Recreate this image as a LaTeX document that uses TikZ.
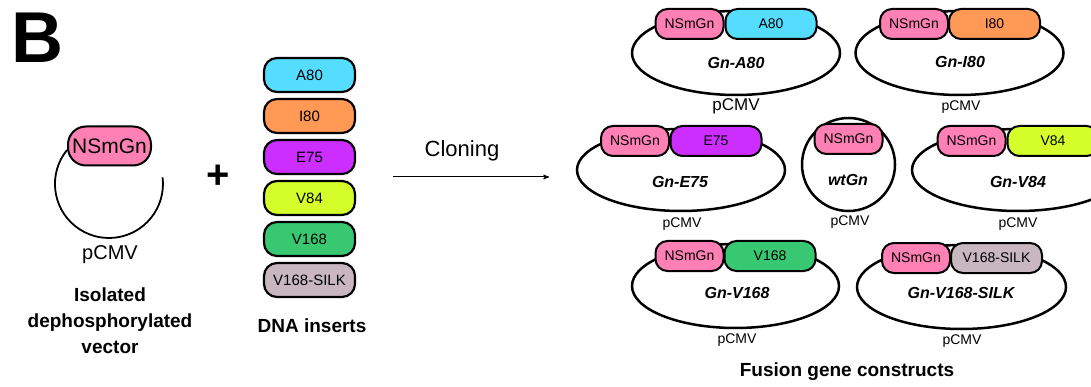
\documentclass[tikz,border=0pt]{standalone}
\usepackage{fontspec}
\setmainfont{Liberation Sans}
\usetikzlibrary{arrows}
\usetikzlibrary{positioning}
\definecolor{nspink}{HTML}{FF80B4}
\definecolor{acyan}{HTML}{55DDFF}
\definecolor{iorange}{HTML}{FF9955}
\definecolor{emagenta}{HTML}{CC2EFF}
\definecolor{vlime}{HTML}{D4FF2A}
\definecolor{vgreen}{HTML}{38C872}
\definecolor{silkgray}{HTML}{C8B7BE}

\begin{document}
\begin{tikzpicture}[x=1pt,y=-1pt,>=stealth',
    pill node/.style={draw,line width=2pt,rounded corners=12pt,minimum height=30pt,inner sep=0pt,font=\fontsize{14}{14}\selectfont},
    gn node/.style={pill node,fill=nspink,minimum width=68pt},
    ins node/.style={pill node,minimum width=91pt},
    col node/.style={draw,line width=2.2pt,rounded corners=13pt,minimum width=91pt,minimum height=34pt,inner sep=0pt,font=\fontsize{15}{15}\selectfont},
    plasmid/.style={line width=2.5pt,fill=white},
    name node/.style={font=\fontsize{16}{16}\selectfont\bfseries\itshape},
    cmv node/.style={font=\fontsize{14}{14}\selectfont},
    title node/.style={font=\fontsize{19}{26}\selectfont\bfseries,align=center}]
   \useasboundingbox (0,0) rectangle (1091,387);
   \clip (0,0) rectangle (1091,387);
   % left: vector + inserts
   \node[font=\fontsize{72}{72}\selectfont\bfseries] (panel) at (37,38) {B};
   \draw[line width=1.8pt] (67,150) arc[start angle=141,end angle=367,radius=54pt];
   \node[gn node,minimum width=83pt,minimum height=39pt,rounded corners=18pt,font=\fontsize{21}{21}\selectfont] (gnfree) at (109.5,146) {NSmGn};
   \node[font=\fontsize{20}{20}\selectfont] (cmvfree) at (110,255) {pCMV};
   \node[title node] (vectorlbl) at (110,321) {Isolated\\dephosphorylated\\vector};
   \node[font=\fontsize{40}{40}\selectfont\bfseries] (plus) at (218,177) {+};
   \node[col node,fill=acyan] (a80) at (309.5,75) {A80};
   \node[col node,fill=iorange] (i80) at (309.5,116) {I80};
   \node[col node,fill=emagenta] (e75) at (309.5,157) {E75};
   \node[col node,fill=vlime] (v84) at (309.5,198) {V84};
   \node[col node,fill=vgreen] (v168) at (309.5,239) {V168};
   \node[col node,fill=silkgray] (silk) at (309.5,280) {V168-SILK};
   \node[title node] (insertlbl) at (312,326) {DNA inserts};
   % cloning arrow
   \coordinate (clonestart) at (393,177);
   \coordinate (cloneend) at (549,177);
   \draw[->,line width=1pt] (clonestart) -- (cloneend);
   \node[font=\fontsize{22}{22}\selectfont] (cloninglbl) at (462,151) {Cloning};
   % Gn-A80
   \draw[plasmid] (736,53) ellipse [x radius=104pt,y radius=42pt];
   \node[gn node] (gna) at (689.5,24) {NSmGn};
   \node[ins node,fill=acyan] (insa) at (771,24) {A80};
   \node[name node] (lbla) at (736,63) {Gn-A80};
   \node[cmv node,font=\fontsize{17}{17}\selectfont] (cmva) at (736,106) {pCMV};
   % Gn-I80
   \draw[plasmid] (959.5,53) ellipse [x radius=104pt,y radius=42pt];
   \node[gn node] (gni) at (914,24) {NSmGn};
   \node[ins node,fill=iorange] (insi) at (994.5,24) {I80};
   \node[name node] (lbli) at (960,62) {Gn-I80};
   \node[cmv node] (cmvi) at (961,107) {pCMV};
   % Gn-E75
   \draw[plasmid] (681,170) ellipse [x radius=104pt,y radius=41pt];
   \node[gn node] (gne) at (635,141) {NSmGn};
   \node[ins node,fill=emagenta] (inse) at (716,141) {E75};
   \node[name node] (lble) at (680,182) {Gn-E75};
   \node[cmv node] (cmve) at (682,224) {pCMV};
   % wtGn
   \draw[plasmid] (848.5,164.5) circle [radius=46.5pt];
   \node[gn node] (gnw) at (848.5,139) {NSmGn};
   \node[name node] (lblw) at (848,180) {wtGn};
   \node[cmv node] (cmvw) at (850,222) {pCMV};
   % Gn-V84
   \draw[plasmid] (1018,170) ellipse [x radius=106pt,y radius=41pt];
   \node[gn node] (gnv) at (971.5,141) {NSmGn};
   \node[ins node,fill=vlime] (insv) at (1053,141) {V84};
   \node[name node] (lblv) at (1018,182) {Gn-V84};
   \node[cmv node] (cmvv) at (1018,224) {pCMV};
   % Gn-V168
   \draw[plasmid] (735.5,286) ellipse [x radius=103.5pt,y radius=42pt];
   \node[gn node] (gnl) at (689.5,256) {NSmGn};
   \node[ins node,fill=vgreen] (insl) at (770,256) {V168};
   \node[name node] (lbll) at (737,293) {Gn-V168};
   \node[cmv node] (cmvl) at (737,340) {pCMV};
   % Gn-V168-SILK
   \draw[plasmid] (961.5,287) ellipse [x radius=104.5pt,y radius=42pt];
   \node[gn node] (gns) at (916,258) {NSmGn};
   \node[ins node,fill=silkgray] (inss) at (996.5,258) {V168-SILK};
   \node[name node] (lbls) at (961,293) {Gn-V168-SILK};
   \node[cmv node] (cmvs) at (962,341) {pCMV};
   \node[title node] (fusionlbl) at (847,372) {Fusion gene constructs};
\end{tikzpicture}
\end{document}
